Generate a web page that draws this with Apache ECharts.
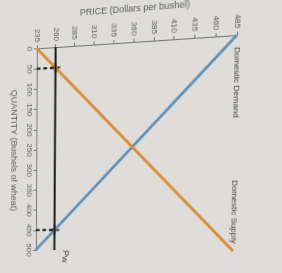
<!DOCTYPE html>
<html>
<head>
<meta charset="utf-8">
<script src="https://cdn.jsdelivr.net/npm/echarts@6/dist/echarts.min.js"></script>
<style>
  html, body { margin: 0; padding: 0; background: #deddd9; }
  #chart { width: 282px; height: 273px; transform-origin: 0 0; }
</style>
</head>
<body>
<div id="chart"></div>
<script>
// the photo is turned: price runs left->right along the top, quantity runs downward
const priceMin = 235, priceMax = 485, priceStep = 25;
const qtyMin = 0, qtyMax = 500, qtyStep = 50;

const demandPrice = [485, 235];
const demandQty = [0, 500];
const supplyPrice = [235, 485];
const supplyQty = [0, 500];

const worldPrice = 260;
const worldQty = [0, 500];
const tradeQty = [50, 450]; // domestic supply / demand at the world price

const pairs = (xs, ys) => xs.map((x, i) => [x, ys[i]]);

// grid box before the photo's perspective is applied
const gl = 35, gt = 48, gw = 200, gh = 202;

let myChart = echarts.init(document.getElementById('chart'));

const axisGray = '#777';
const textGray = '#5c5c5c';
const font = 'Liberation Sans';
const plus = 'path://M4,0H6V4H10V6H6V10H4V6H0V4H4Z';

let option = {
    animation: false,
    grid: { left: gl, top: gt, width: gw, height: gh },
    xAxis: {
        type: 'value',
        position: 'top',
        min: priceMin, max: priceMax, interval: priceStep,
        name: 'PRICE (Dollars per bushel)',
        nameLocation: 'middle',
        nameGap: 22,
        nameTextStyle: { fontSize: 9, color: textGray, fontFamily: font },
        axisLine: { lineStyle: { color: axisGray, width: 1 } },
        axisTick: { show: true, length: 3, lineStyle: { color: axisGray } },
        axisLabel: { rotate: -90, fontSize: 8, color: textGray, margin: 6, fontFamily: font },
        splitLine: { show: false }
    },
    yAxis: {
        type: 'value',
        inverse: true,
        min: qtyMin, max: qtyMax, interval: qtyStep,
        name: 'QUANTITY (Bushels of wheat)',
        nameLocation: 'middle',
        nameRotate: -90,
        nameGap: 16,
        nameTextStyle: { fontSize: 9, color: textGray, fontFamily: font },
        axisLine: { lineStyle: { color: axisGray, width: 1 } },
        axisTick: { show: true, length: 3, lineStyle: { color: axisGray } },
        axisLabel: { rotate: -90, fontSize: 8, color: textGray, margin: 4, fontFamily: font },
        splitLine: { show: false }
    },
    series: [
        {
            name: 'Domestic Demand',
            type: 'line',
            symbol: 'circle',
            symbolSize: 0,
            lineStyle: { color: '#5f8fb4', width: 2.5 },
            data: pairs(demandPrice, demandQty).map((p, i) => i === 0 ? {
                value: p,
                label: {
                    show: true, formatter: 'Domestic Demand', position: 'bottom', distance: 11,
                    rotate: -90, align: 'left', verticalAlign: 'middle',
                    fontSize: 8, color: '#444', fontFamily: font
                }
            } : p)
        },
        {
            name: 'Domestic Supply',
            type: 'line',
            symbol: 'circle',
            symbolSize: 0,
            lineStyle: { color: '#db8a2c', width: 2.5 },
            data: pairs(supplyPrice, supplyQty).map((p, i) => i === 1 ? {
                value: p,
                label: {
                    show: true, formatter: 'Domestic Supply', position: 'top', distance: 7,
                    rotate: -90, align: 'right', verticalAlign: 'middle',
                    fontSize: 8, color: '#444', fontFamily: font
                }
            } : p)
        },
        {
            name: 'World price',
            type: 'line',
            symbol: 'circle',
            symbolSize: 0,
            lineStyle: { color: '#111', width: 2 },
            data: worldQty.map((q, i) => i === 1 ? {
                value: [worldPrice, q],
                label: {
                    show: true, formatter: '{p|P}{w|W}', position: 'right', distance: 5,
                    offset: [0, -7], rotate: -90, align: 'left', verticalAlign: 'middle',
                    rich: {
                        p: { fontSize: 9, color: '#444', fontFamily: font },
                        w: { fontSize: 7, color: '#444', fontFamily: font, verticalAlign: 'bottom', padding: [4, 0, 0, 0] }
                    }
                }
            } : [worldPrice, q])
        },
        ...tradeQty.map(q => ({
            type: 'line',
            symbol: 'none',
            lineStyle: { color: '#111', width: 2, type: [4, 3] },
            data: [[priceMin, q], [worldPrice, q]]
        })),
        {
            type: 'scatter',
            symbol: plus,
            symbolSize: 10,
            itemStyle: { color: '#111' },
            data: tradeQty.map(q => [worldPrice, q])
        }
    ]
};
myChart.setOption(option);

// the reference is a photo of a screen, slightly in perspective:
// map the grid corners onto where they sit in the photo
function homography(src, dst) {
    const A = [], b = [];
    for (let i = 0; i < 4; i++) {
        const [x, y] = src[i], [u, v] = dst[i];
        A.push([x, y, 1, 0, 0, 0, -x * u, -y * u]); b.push(u);
        A.push([0, 0, 0, x, y, 1, -x * v, -y * v]); b.push(v);
    }
    for (let c = 0; c < 8; c++) {
        let p = c;
        for (let r = c + 1; r < 8; r++) if (Math.abs(A[r][c]) > Math.abs(A[p][c])) p = r;
        [A[c], A[p]] = [A[p], A[c]];
        [b[c], b[p]] = [b[p], b[c]];
        for (let r = 0; r < 8; r++) {
            if (r === c) continue;
            const f = A[r][c] / A[c][c];
            for (let k = c; k < 8; k++) A[r][k] -= f * A[c][k];
            b[r] -= f * b[c];
        }
    }
    return b.map((v, i) => v / A[i][i]);
}
const src = [[gl, gt], [gl + gw, gt], [gl, gt + gh], [gl + gw, gt + gh]];
const dst = [[35, 48.5], [237, 35], [34, 250], [233, 251]];
const h = homography(src, dst);
document.getElementById('chart').style.transform =
    'matrix3d(' + [h[0], h[3], 0, h[6], h[1], h[4], 0, h[7], 0, 0, 1, 0, h[2], h[5], 0, 1].join(',') + ')';
</script>
</body>
</html>
